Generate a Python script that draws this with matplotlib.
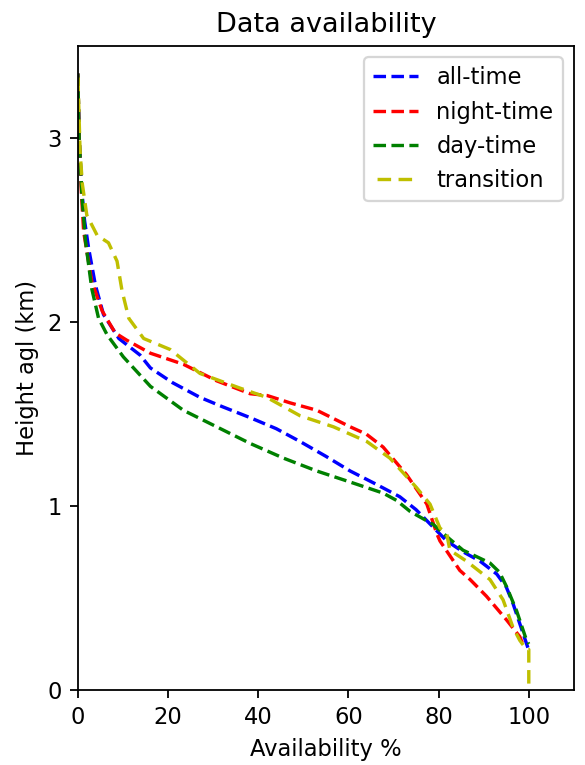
import matplotlib
matplotlib.use('Agg')
import matplotlib.pyplot as plt

# Availability (%) vs height agl (km)
all_avail = [0, 0.3, 0.9, 1.5, 2.4, 3.9, 5.7, 9.1, 13.8, 16.1, 21, 27.1, 32, 38.2,
             44, 49.3, 55, 60.4, 66, 71.4, 75, 78.8, 81.8, 85.5, 89.2, 92.9, 95,
             96.5, 98.7, 99.8]
all_height = [3.35, 3.0, 2.71, 2.55, 2.40, 2.20, 2.04, 1.91, 1.82, 1.75, 1.67, 1.59,
              1.54, 1.48, 1.42, 1.35, 1.27, 1.19, 1.12, 1.05, 0.98, 0.885, 0.81,
              0.75, 0.70, 0.63, 0.56, 0.47, 0.31, 0.23]

night_avail = [0, 0.3, 0.8, 1.3, 3.1, 5.4, 8.3, 10.9, 16.1, 23.4, 30.8, 38.2, 42,
               47.1, 53, 60.4, 64, 67.7, 72.9, 77.4, 79.6, 80.3, 84.7, 87, 90.6,
               95.1, 98, 99]
night_height = [3.35, 3.0, 2.7, 2.49, 2.22, 2.06, 1.94, 1.90, 1.83, 1.77, 1.68, 1.61,
                1.60, 1.56, 1.52, 1.43, 1.39, 1.32, 1.17, 1.01, 0.85, 0.81, 0.65,
                0.60, 0.51, 0.38, 0.29, 0.23]

day_avail = [0, 0.3, 0.9, 1.7, 3.1, 4.6, 6.5, 10.1, 16.1, 23.4, 30.8, 38.2, 45.6,
             53, 60.4, 67.7, 70.7, 73.7, 78.8, 82, 85.4, 91.4, 93.5, 95.1, 97.3,
             99.5, 100]
day_height = [3.35, 3.0, 2.69, 2.44, 2.18, 2.02, 1.93, 1.81, 1.65, 1.52, 1.43, 1.34,
              1.26, 1.19, 1.13, 1.07, 1.03, 0.97, 0.90, 0.83, 0.76, 0.69, 0.64,
              0.56, 0.43, 0.27, 0.25]

trans_avail = [0, 0.5, 1, 2, 4.3, 6.8, 8.7, 9.8, 11.3, 14.6, 20.5, 27.1, 36, 41.9,
               49.3, 56.7, 64.1, 69.2, 75.1, 78.1, 80.3, 81.8, 82.5, 86.2, 91.4,
               94.3, 96.5, 98, 99.5, 100, 100]
trans_height = [3.35, 2.93, 2.75, 2.58, 2.47, 2.43, 2.33, 2.17, 2.02, 1.91, 1.85,
                1.72, 1.64, 1.59, 1.49, 1.43, 1.35, 1.26, 1.10, 1.01, 0.88, 0.85,
                0.76, 0.70, 0.60, 0.49, 0.34, 0.27, 0.22, 0.22, 0.0]

fig, ax = plt.subplots(figsize=(3.6, 4.708), dpi=162.5)
fig.subplots_adjust(left=0.133, right=0.981, bottom=0.098, top=0.940)

ax.plot(all_avail, all_height, 'b--', label='all-time')
ax.plot(night_avail, night_height, 'r--', label='night-time')
ax.plot(day_avail, day_height, 'g--', label='day-time')
ax.plot(trans_avail, trans_height, color='y', linestyle=(5, (4.0, 2.2)),
        label='transition')

ax.set_xlim(0, 110)
ax.set_ylim(0, 3.5)
ax.set_xticks([0, 20, 40, 60, 80, 100])
ax.set_yticks([0, 1, 2, 3])

ax.set_xlabel('Availability %')
ax.set_ylabel('Height agl (km)')
ax.set_title('Data availability')
ax.legend(loc='upper right')

fig.savefig('out.png', dpi=162.5)
